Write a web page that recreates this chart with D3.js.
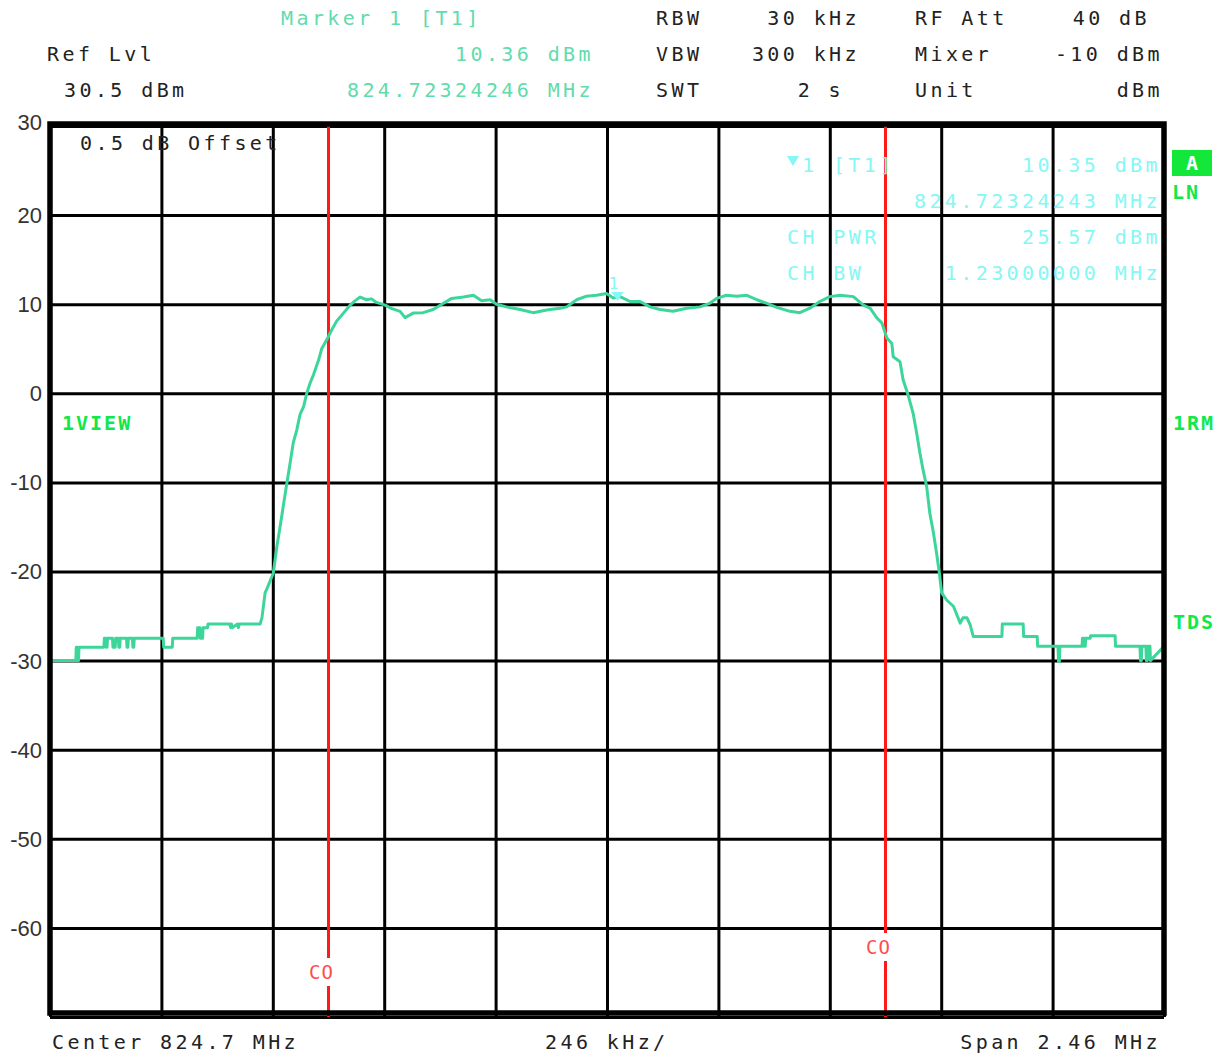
<!DOCTYPE html>
<html>
<head>
<meta charset="utf-8">
<script src="https://cdn.jsdelivr.net/npm/d3@7"></script>
<style>
  html, body { margin: 0; padding: 0; background: #fff; }
  svg { display: block; }
  .mono { font-family: "DejaVu Sans Mono", monospace; font-size: 20px; letter-spacing: 3.4px; }
  .lab { font-family: "DejaVu Sans Mono", monospace; font-size: 20px; font-weight: bold; letter-spacing: 2px; }
</style>
</head>
<body>
<svg id="chart" width="1231" height="1055"></svg>
<script>
// ---------------- DATA ----------------
// Frequency offset from centre (kHz) and level (dBm) of the trace
const traceKHz = [
  -1230,-1173,-1172,-1170,-1169,-1167,-1166,-1111,-1110,-1107,-1106,-1104,-1103,-1092,-1091,-1086,-1085,-1079,-1078,-1076,-1075,-1061,-1060,-1058,-1057,-1048,-1047,-1045,-1044,
  -980,-979,-960,-959,-905,-904,-899,-898,-893,-892,-882,-881,-833,-831,-829,-827,-816,-814,-812,-766,-762,
  -755,-749,-737,-729,-722,-715,-707,-700,-693,-685,-678,-670,-663,-656,-648,-637,-630,-619,-608,-597,-582,-567,-556,-545,-531,-520,-509,
  -490,-475,-457,-446,-428,-406,-384,-361,-343,-317,-295,-277,-258,-244,-222,-192,-163,-133,-104,-89,-67,-45,-23,-1,14,29,51,73,95,117,146,176,205,227,242,264,286,309,331,353,375,404,426,448,470,492,515,544,566,581,596,607,
  618,629,632,647,654,665,676,684,691,698,706,713,721,728,734,739,750,765,780,786,795,802,809,
  872,873,919,920,950,951,996,997,999,1000,1049,1050,1053,1054,1056,1057,1067,1068,1122,1123,1177,1178,1180,1181,1190,1191,1193,1194,1199,1200,1230
];
const traceDBm = [
  -30,-30,-28.5,-28.5,-30,-30,-28.5,-28.5,-27.5,-27.5,-28.5,-28.5,-27.5,-27.5,-28.5,-28.5,-27.5,-27.5,-28.5,-28.5,-27.5,-27.5,-28.5,-28.5,-27.5,-27.5,-28.5,-28.5,-27.5,
  -27.5,-28.5,-28.5,-27.5,-27.5,-26.3,-26.3,-27.5,-27.5,-26.3,-26.3,-25.9,-25.9,-26.3,-25.9,-26.3,-25.9,-26.3,-25.9,-25.9,-25.2,
  -22.4,-21.7,-20.2,-17.2,-15.0,-12.7,-10.1,-7.9,-5.6,-4.1,-2.4,-1.5,0.0,1.1,2.1,3.7,5.0,6.0,7.1,8.1,9.0,9.9,10.4,10.8,10.5,10.6,10.2,
  9.9,9.5,9.2,8.5,9.0,9.05,9.4,10.1,10.65,10.8,11.0,10.4,10.5,10.0,9.7,9.4,9.05,9.35,9.55,9.7,10.5,10.9,11.0,11.2,10.7,10.85,10.3,10.3,9.7,9.4,9.2,9.55,9.7,10.1,10.65,11.0,10.9,11.0,10.5,10.1,9.65,9.2,9.05,9.55,10.3,10.85,11.0,10.85,9.9,9.55,8.45,7.9,
  6.2,5.6,4.1,3.55,1.5,-0.2,-2.25,-4.5,-6.7,-8.6,-10.5,-13.5,-15.7,-18.0,-20.2,-22.4,-23.2,-23.9,-25.8,-25.2,-25.2,-26.0,-27.3,
  -27.3,-25.9,-25.9,-27.3,-27.3,-28.4,-28.4,-30.1,-30.1,-28.4,-28.4,-27.5,-27.5,-28.4,-28.4,-27.5,-27.5,-27.2,-27.2,-28.4,-28.4,-30.0,-30.0,-28.4,-28.4,-30.0,-30.0,-28.4,-28.4,-30.0,-28.4
];

const yTicks = [30, 20, 10, 0, -10, -20, -30, -40, -50, -60];
const yGridValues = [30, 20, 10, 0, -10, -20, -30, -40, -50, -60, -70];
const xGridKHz = [-1230, -984, -738, -492, -246, 0, 246, 492, 738, 984, 1230];
const channelLinesKHz = [-615, 615];            // CH BW 1.23 MHz
const channelLabels = ["CO", "CO"];
const marker = { kHz: 23.2, dBm: 10.36, label: "1" };

const headerRows = [
  { left: "Ref Lvl",  green: "10.36 dBm" },
  { left: "30.5 dBm", green: "824.72324246 MHz" }
];
const settingsNames  = ["RBW", "VBW", "SWT"];
const settingsValues = ["30 kHz", "300 kHz", "2 s"];
const attNames  = ["RF Att", "Mixer", "Unit"];
const attValues = ["40 dB", "-10 dBm", "dBm"];
const infoLeft  = ["1 [T1]", "", "CH PWR", "CH BW"];
const infoRight = ["10.35 dBm", "824.72324243 MHz", "25.57 dBm", "1.23000000 MHz"];

// ---------------- LAYOUT ----------------
const svg = d3.select("#chart");
const L = 50, R = 1164, T = 126, B = 1017;
const x = d3.scaleLinear().domain([-1230, 1230]).range([L, R]);
const y = d3.scaleLinear().domain([30, -70]).range([T, B]);

const TRACE = "#3dd69a", CYAN = "#85f7f4", HEAD = "#62dbab", LGREEN = "#11e84a", RED = "#ff1a1a";

// grid (via axes)
const gx = svg.append("g").attr("transform", `translate(0,${B})`)
  .call(d3.axisBottom(x).tickValues(xGridKHz).tickSize(-(B - T)).tickFormat(""));
gx.select(".domain").remove();
gx.selectAll("line").attr("stroke", "#000").attr("stroke-width", 3);

const gy = svg.append("g").attr("transform", `translate(${L},0)`)
  .call(d3.axisLeft(y).tickValues(yGridValues).tickSize(-(R - L)).tickFormat(""));
gy.select(".domain").remove();
gy.selectAll("line").attr("stroke", "#000").attr("stroke-width", 3);

// tick labels
const gl = svg.append("g").attr("transform", `translate(${L - 5},0)`)
  .call(d3.axisLeft(y).tickValues(yTicks).tickSize(0).tickFormat(d => String(d)));
gl.select(".domain").remove();
gl.selectAll("text")
  .attr("font-family", "Liberation Sans, Arial, sans-serif")
  .attr("font-size", 22).attr("fill", "#333")
  .attr("dy", d => d === 30 ? "0.15em" : "0.34em");

// channel lines
channelLinesKHz.forEach((k, i) => {
  const cx = x(k);
  const ly = i === 0 ? 972 : 947;
  svg.append("line").attr("x1", cx).attr("x2", cx).attr("y1", T).attr("y2", ly - 14)
    .attr("stroke", RED).attr("stroke-width", 3);
  svg.append("line").attr("x1", cx).attr("x2", cx).attr("y1", ly + 14).attr("y2", B)
    .attr("stroke", RED).attr("stroke-width", 3);
  svg.append("text").attr("x", cx - 7).attr("y", ly + 7).attr("text-anchor", "middle")
    .attr("class", "mono").style("font-size", "19px").style("letter-spacing", "1px")
    .attr("fill", "#ff4d4d").text(channelLabels[i]);
});

// trace
const pts = traceKHz.map((k, i) => [k, traceDBm[i]]);
svg.append("path").datum(pts)
  .attr("fill", "none").attr("stroke", TRACE).attr("stroke-width", 3)
  .attr("stroke-linejoin", "round")
  .attr("d", d3.line().x(d => x(d[0])).y(d => y(d[1])));

// border
svg.append("rect").attr("x", L).attr("y", T - 2).attr("width", R - L).attr("height", B - T - 2)
  .attr("fill", "none").attr("stroke", "#000").attr("stroke-width", 5.5);

// marker
const mx = x(marker.kHz), my = y(marker.dBm);
svg.append("path").attr("d", `M${mx - 6},${my - 9}L${mx + 6},${my - 9}L${mx},${my}Z`).attr("fill", CYAN);
svg.append("text").attr("x", mx - 4).attr("y", my - 12).attr("text-anchor", "middle")
  .attr("font-family", "DejaVu Sans Mono, monospace").attr("font-size", 16).attr("fill", CYAN).text(marker.label);

// ---------------- TEXT ----------------
function txt(t, tx, ty, anchor, color, cls) {
  return svg.append("text").attr("x", tx).attr("y", ty).attr("text-anchor", anchor || "start")
    .attr("class", cls || "mono").attr("fill", color || "#222").text(t);
}
txt("Marker 1 [T1]", 281, 25, "start", HEAD);
headerRows.forEach((r, i) => {
  txt(r.left, i === 0 ? 47 : 64, 61 + i * 36, "start", "#222");
  txt(r.green, 594, 61 + i * 36, "end", HEAD);
});
settingsNames.forEach((n, i) => {
  txt(n, 656, 25 + i * 36, "start", "#222");
  txt(settingsValues[i], i === 2 ? 844 : 860, 25 + i * 36, "end", "#222");
});
attNames.forEach((n, i) => {
  txt(n, 915, 25 + i * 36, "start", "#222");
  txt(attValues[i], i === 0 ? 1150 : 1163, 25 + i * 36, "end", "#222");
});

txt("0.5 dB Offset", 80, 150, "start", "#222");

// info block
svg.append("path").attr("d", "M787,156L799,156L793,166Z").attr("fill", CYAN);
infoLeft.forEach((t, i) => { if (t) txt(t, i === 0 ? 802 : 787, 172 + i * 36, "start", CYAN); });
infoRight.forEach((t, i) => txt(t, 1161, 172 + i * 36, "end", CYAN));

// side labels
svg.append("rect").attr("x", 1172).attr("y", 150).attr("width", 40).attr("height", 26).attr("fill", "#13e83a");
txt("A", 1193, 170, "middle", "#fff", "lab");
txt("LN", 1172, 199, "start", LGREEN, "lab");
txt("1VIEW", 62, 430, "start", LGREEN, "lab");
txt("1RM", 1173, 430, "start", LGREEN, "lab");
txt("TDS", 1173, 629, "start", LGREEN, "lab");

// bottom
txt("Center 824.7 MHz", 52, 1049, "start", "#222");
txt("246 kHz/", 545, 1049, "start", "#222");
txt("Span 2.46 MHz", 1161, 1049, "end", "#222");
</script>
</body>
</html>
